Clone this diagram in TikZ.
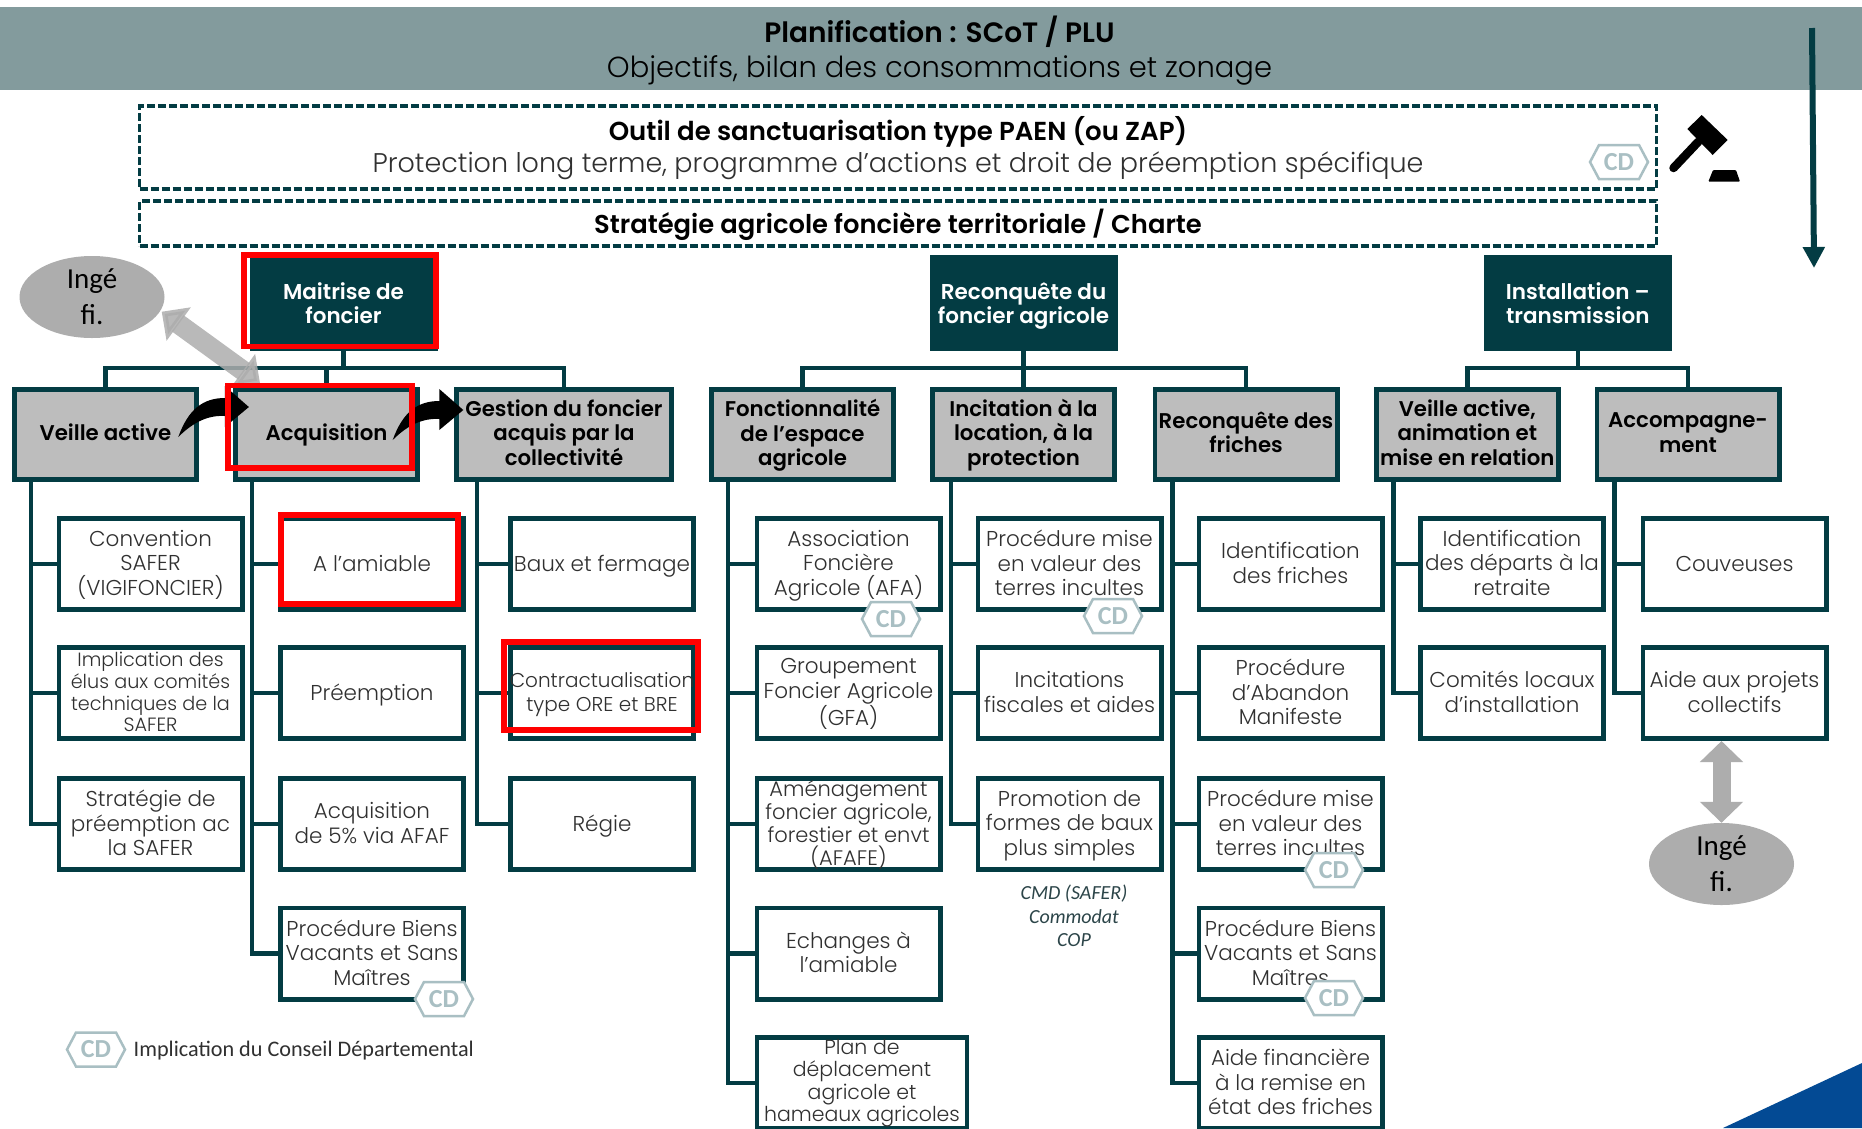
\documentclass[tikz,border=0pt]{standalone}
\usepackage{fontspec}
\usetikzlibrary{arrows.meta,shapes.geometric}
\setmainfont{Poppins}[UprightFont=* Light,BoldFont=* SemiBold]
\newfontfamily\carl{Carlito}
\definecolor{tealc}{HTML}{033C43}
\definecolor{bann}{HTML}{839B9D}
\definecolor{gbox}{HTML}{BDBDBD}
\definecolor{gar}{HTML}{ADADAD}
\definecolor{cdc}{HTML}{A9BFC3}
\definecolor{blu}{HTML}{034A94}
\definecolor{txt}{HTML}{303030}
\definecolor{cmdc}{HTML}{2C4549}
\tikzset{
  strutted/.style={execute at begin node=\strut,execute at end node=\strut},
  leafbox/.style={draw=tealc,fill=white,line width=4.8pt,minimum width=183.2pt,minimum height=91.2pt,inner sep=0pt},
  leaftxt/.style={strutted,yshift=-2.4pt,inner sep=0pt,align=center,text=txt,font=\fontsize{21.5}{24.5}\selectfont},
  midbox/.style={draw=tealc,fill=gbox,line width=4.8pt,minimum width=182.2pt,minimum height=90.2pt,inner sep=0pt},
  midtxt/.style={strutted,yshift=-1.5pt,inner sep=0pt,align=center,text=black,font=\bfseries\fontsize{21.3}{24.5}\selectfont},
  topbox/.style={fill=tealc,minimum width=188pt,minimum height=96pt,inner sep=0pt},
  toptxt/.style={strutted,yshift=-3.5pt,inner sep=0pt,align=center,text=white,font=\bfseries\fontsize{21.5}{24}\selectfont},
  conn/.style={draw=tealc,line width=4.5pt},
  dashbox/.style={draw=tealc,fill=white,line width=3.2pt,dash pattern=on 8pt off 3pt,minimum width=1517pt,inner sep=0pt},
  redfr/.style={draw=red,line width=5.5pt},
  ingeo/.style={ellipse,fill=gar,minimum width=145pt,minimum height=82pt,inner sep=0pt,align=center,text=black,font=\carl\fontsize{29}{36}\selectfont},
  garrow/.style={draw=gar,line width=#1,{Triangle[length=21pt,width=42pt]}-{Triangle[length=21pt,width=42pt]}},
  cdhex/.pic={
    \fill[white,draw=cdc,line width=2.5pt,line join=miter] (-29,0)--(-20,-17)--(20,-17)--(29,0)--(20,17)--(-20,17)--cycle;
    \node[inner sep=0pt,text=cdc,font=\carl\bfseries\fontsize{26}{26}\selectfont] (-t) at (0,0) {CD};
  },
  bentarrow/.pic={
    \fill[black] (0,0) .. controls (10,-28) and (25,-39) .. (46.6,-39) -- (46.6,-51) -- (70.6,-30) -- (46.6,-10) -- (46.6,-21) .. controls (30,-22) and (15,-15) .. (0,0) -- cycle;
  },
}
\newcommand\leaf[4]{\node[leafbox] (#1) at (#2,#3) {};\node[leaftxt] (#1t) at (#1.center) {#4};}
\newcommand\midn[3]{\node[midbox] (#1) at (#2,434.5) {};\node[midtxt] (#1t) at (#1.center) {#3};}
\newcommand\topn[3]{\node[topbox] (#1) at (#2,303) {};\node[toptxt] (#1t) at (#1.center) {#3};}
\begin{document}
\begin{tikzpicture}[x=1pt,y=-1pt]
\path[use as bounding box,clip] (0,0) rectangle (1862,1128);
\fill[white] (0,0) rectangle (1862,1128);
% banner
\node[fill=bann,minimum width=1862pt,minimum height=83pt,inner sep=0pt] (banner) at (931,48) {};
\node[inner sep=0pt,align=center,text=black,font=\fontsize{29}{35}\selectfont] (bannert) at (939.5,50.5) {{\bfseries\fontsize{28}{35}\selectfont Planification : SCoT / PLU}\\Objectifs, bilan des consommations et zonage};
% dashed
\node[dashbox,minimum height=83pt] (paen) at (898,147.5) {};
\node[inner sep=0pt,align=center,text=black,font=\fontsize{27}{32}\selectfont] (paent) at (898,148) {{\bfseries\fontsize{26}{32}\selectfont Outil de sanctuarisation type PAEN (ou ZAP)}\\[0pt]{\color{txt}Protection long terme, programme d'actions et droit de préemption spécifique}};
\node[dashbox,minimum height=45pt] (strat) at (898,223.5) {};
\node[inner sep=0pt,text=black,font=\bfseries\fontsize{25.8}{30}\selectfont] (stratt) at (898,224.5) {Stratégie agricole foncière territoriale / Charte};
% top boxes
\topn{maitrise}{343.5}{Maitrise de\\foncier}
\topn{reconq}{1023.5}{Reconquête du\\foncier agricole}
\topn{install}{1577.75}{Installation –\\transmission}
% mid boxes
\midn{veille}{105.5}{Veille active}
\midn{acq}{326.5}{Acquisition}
\node[midbox,minimum width=215.5pt] (gest) at (564,434.5) {};\node[midtxt] (gestt) at (gest.center) {Gestion du foncier\\acquis par la\\collectivité};
\midn{fonct}{802.5}{Fonctionnalité\\de l'espace\\agricole}
\midn{incit}{1023.5}{Incitation à la\\location, à la\\protection}
\midn{fric}{1246}{Reconquête des\\friches}
\midn{vani}{1467.25}{Veille active,\\animation et\\mise en relation}
\midn{accom}{1688}{Accompagne-\\ment}
% leaves
\leaf{a}{150.5}{564}{Convention\\SAFER\\(VIGIFONCIER)}
\node[leafbox] (b) at (150.5,693) {};
\node[leaftxt,font=\fontsize{19.2}{21.7}\selectfont] (bt) at (b.center) {Implication des\\élus aux comités\\techniques de la\\SAFER};
\leaf{c}{150.5}{824}{Stratégie de\\préemption ac\\la SAFER}
\leaf{d}{372}{564}{A l'amiable}
\leaf{e}{372}{693}{Préemption}
\leaf{f}{372}{824}{Acquisition\\de 5\% via AFAF}
\leaf{g}{372}{953.5}{Procédure Biens\\Vacants et Sans\\Maîtres}
\leaf{h}{602}{564}{Baux et fermage}
\node[leafbox] (i) at (602,693) {};
\node[leaftxt,font=\fontsize{20}{23.5}\selectfont] (it) at (i.center) {Contractualisation\\type ORE et BRE};
\leaf{j}{602}{824}{Régie}
\leaf{k}{848.5}{564}{Association\\Foncière\\Agricole (AFA)}
\leaf{l}{848.5}{693}{Groupement\\Foncier Agricole\\(GFA)}
\node[leafbox] (m) at (848.5,824) {};
\node[leaftxt,font=\fontsize{21}{23}\selectfont] (mt) at (m.center) {Aménagement\\foncier agricole,\\forestier et envt\\(AFAFE)};
\leaf{n}{848.5}{953.5}{Echanges à\\l'amiable}
\node[leafbox,minimum width=210pt] (o) at (862,1083) {};
\node[inner sep=0pt,align=center,text=txt,font=\fontsize{20.5}{22.5}\selectfont] (ot) at (862,1083) {Plan de\\déplacement\\agricole et\\hameaux agricoles};
\leaf{p}{1069.5}{564}{Procédure mise\\en valeur des\\terres incultes}
\leaf{q}{1069.5}{693}{Incitations\\fiscales et aides}
\leaf{r}{1069.5}{824}{Promotion de\\formes de baux\\plus simples}
\leaf{s}{1290.5}{564}{Identification\\des friches}
\leaf{u}{1290.5}{693}{Procédure\\d'Abandon\\Manifeste}
\leaf{v}{1290.5}{824}{Procédure mise\\en valeur des\\terres incultes}
\leaf{w}{1290.5}{953.5}{Procédure Biens\\Vacants et Sans\\Maîtres}
\leaf{y}{1290.5}{1083}{Aide financière\\à la remise en\\état des friches}
\leaf{aa}{1512}{564}{Identification\\des départs à la\\retraite}
\leaf{ab}{1512}{693}{Comités locaux\\d'installation}
\leaf{ac}{1734.5}{564}{Couveuses}
\leaf{ad}{1734.5}{693}{Aide aux projets\\collectifs}
% connectors
\coordinate (bus1) at (343.5,368);
\coordinate (bus2) at (1023.5,368);
\coordinate (bus3) at (1577.75,368);
\draw[conn] (maitrise.south) -- (bus1);
\draw[conn] (veille.north) |- (bus1) -| (gest.north);
\draw[conn] (acq.north) -- (acq.north |- bus1);
\draw[conn] (reconq.south) -- (incit.north);
\draw[conn] (fonct.north) |- (bus2) -| (fric.north);
\draw[conn] (install.south) -- (bus3);
\draw[conn] (vani.north) |- (bus3) -| (accom.north);
\coordinate (t1) at ([xshift=19pt]veille.south west);
\coordinate (t2) at ([xshift=19pt]acq.south west);
\coordinate (t3) at ([xshift=23pt]gest.south west);
\coordinate (t4) at ([xshift=19pt]fonct.south west);
\coordinate (t5) at ([xshift=21pt]incit.south west);
\coordinate (t6) at ([xshift=20pt]fric.south west);
\coordinate (t7) at ([xshift=19.5pt]vani.south west);
\coordinate (t8) at ([xshift=20pt]accom.south west);
\draw[conn] (t1) |- (c.west); \draw[conn] (a.west) -- (a.west -| t1); \draw[conn] (b.west) -- (b.west -| t1);
\draw[conn] (t2) |- (g.west); \draw[conn] (d.west) -- (d.west -| t2); \draw[conn] (e.west) -- (e.west -| t2); \draw[conn] (f.west) -- (f.west -| t2);
\draw[conn] (t3) |- (j.west); \draw[conn] (h.west) -- (h.west -| t3); \draw[conn] (i.west) -- (i.west -| t3);
\draw[conn] (t4) |- (o.west); \draw[conn] (k.west) -- (k.west -| t4); \draw[conn] (l.west) -- (l.west -| t4); \draw[conn] (m.west) -- (m.west -| t4); \draw[conn] (n.west) -- (n.west -| t4);
\draw[conn] (t5) |- (r.west); \draw[conn] (p.west) -- (p.west -| t5); \draw[conn] (q.west) -- (q.west -| t5);
\draw[conn] (t6) |- (y.west); \draw[conn] (s.west) -- (s.west -| t6); \draw[conn] (u.west) -- (u.west -| t6); \draw[conn] (v.west) -- (v.west -| t6); \draw[conn] (w.west) -- (w.west -| t6);
\draw[conn] (t7) |- (ab.west); \draw[conn] (aa.west) -- (aa.west -| t7);
\draw[conn] (t8) |- (ad.west); \draw[conn] (ac.west) -- (ac.west -| t8);
% inge
\node[ingeo] (ing1) at (92,297) {Ingé\\fi.};
\node[ingeo] (ing2) at (1721.5,864) {Ingé\\fi.};
\draw[opacity=.85,draw=gar,line width=20pt,{Triangle[length=21pt,width=40pt]}-{Triangle[length=21pt,width=40pt]}] ([shift={(69.7,14.7)}]ing1.center) -- ([shift={(27,-4)}]acq.north west);
\draw[garrow=18pt] (ad.south -| ing2.north) -- (ing2.north);
% bent arrows
\pic at ([shift={(-20.7,2.5)}]veille.east) {bentarrow};
\pic at ([shift={(-27.3,5.5)}]acq.east) {bentarrow};
% red frames
\draw[redfr] (244,255) rectangle (436,346.5);
\draw[redfr] (228,385.5) rectangle (412,468);
\draw[redfr] (281,515) rectangle (458,604);
\draw[redfr] (504,642) rectangle (698,730);
% CD
\pic (cd1) at (1619,162) {cdhex};
\pic (cd2) at (444,999) {cdhex};
\pic (cd3) at (891,619) {cdhex};
\pic (cd4) at (1113,616) {cdhex};
\pic (cd5) at (1334,870) {cdhex};
\pic (cd6) at (1334,998) {cdhex};
\pic (cd7) at (96,1049.5) {cdhex};
\node[anchor=west,inner sep=0pt,text=txt,font=\carl\fontsize{22.2}{24}\selectfont] (legend) at (133.5,1051) {Implication du Conseil Départemental};
\node[inner sep=0pt,align=center,text=cmdc,font=\carl\itshape\fontsize{20}{23.5}\selectfont] (cmd) at (1074,916) {CMD (SAFER)\\Commodat\\COP};
% gavel
\fill[black] (1701.7,115) -- (1727.7,140) -- (1712.7,155) -- (1687.3,129) -- cycle;
\draw[black,line width=8.5pt,line cap=round] (1698.3,141.7) -- (1673.5,168);
\fill[black,rounded corners=1pt] (1713,170) -- (1736,170) -- (1740,181.7) -- (1708.3,181.7) -- cycle;
% long arrow
\coordinate (va) at (1812,28);
\coordinate (vb) at (1814,268);
\draw[draw=tealc,line width=6pt,-{Triangle[length=21pt,width=21pt]}] (va) -- (vb);
% corner
\fill[blu] (1723,1128) -- (1862,1063) -- (1862,1128) -- cycle;
\end{tikzpicture}
\end{document}
